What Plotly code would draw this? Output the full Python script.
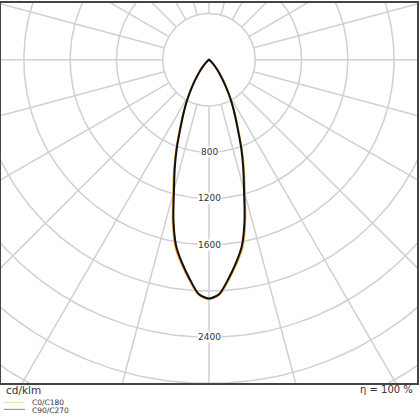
import numpy as np
import plotly.graph_objects as go

# luminous intensity distribution, cd/klm, gamma in degrees from nadir
gamma = [0, 2.5, 5, 7.5, 10, 12.5, 15, 17.5, 20, 22.5, 25, 27.5, 30, 32.5, 35, 40, 45, 50, 55, 60, 70, 80, 90]
c0_c180 = [2070, 2035, 1915, 1790, 1655, 1445, 1195, 1005, 830, 665, 540, 438, 346, 264, 198, 107, 51, 21, 8, 3, 0, 0, 0]
c90_c270 = [2065, 2028, 1905, 1775, 1635, 1420, 1170, 985, 815, 650, 530, 430, 340, 260, 195, 105, 50, 20, 8, 3, 0, 0, 0]

grid_radii = [400, 800, 1200, 1600, 2000, 2400, 2800, 3200, 3600, 4000]
grid_labels = ['800', '1200', '1600', '2400']
label_radii = [800, 1200, 1600, 2400]
spoke_angles = list(range(0, 360, 15))

unit_text = 'cd/klm'
eta_text = 'η = 100 %'
legend_names = ['C0/C180', 'C90/C270']

W, H = 420, 420
ml, mr, mt, mb = 1, 1, 1, 37
pw, ph = W - ml - mr, H - mt - mb
cx, cy = 209, 57          # centre of the diagram inside the plot area (px)
s = 46.5 / 400            # px per cd/klm


def px(x):
    return (x - ml) / pw


def py(y):
    return 1 - (y - mt) / ph


def half_to_xy(g, vals):
    g = np.array(g, dtype=float)
    v = np.array(vals, dtype=float)
    # right half (C0 / C90), then left half mirrored (C180 / C270)
    ang = np.concatenate([-g[::-1], g[1:]])
    rr = np.concatenate([v[::-1], v[1:]])
    rad = np.radians(ang)
    return rr * np.sin(rad), -rr * np.cos(rad)


fig = go.Figure()

# grid circles
gx, gy = [], []
t = np.linspace(0, 2 * np.pi, 361)
for r in grid_radii:
    gx += list(r * np.cos(t)) + [None]
    gy += list(r * np.sin(t)) + [None]
# spokes
for a in spoke_angles:
    ra = np.radians(a)
    gx += [400 * np.sin(ra), 6000 * np.sin(ra), None]
    gy += [-400 * np.cos(ra), -6000 * np.cos(ra), None]
fig.add_trace(go.Scatter(x=gx, y=gy, mode='lines', line=dict(color='#d0d0d0', width=1.5),
                         hoverinfo='skip', showlegend=False))

x0, y0 = half_to_xy(gamma, c0_c180)
fig.add_trace(go.Scatter(x=x0, y=y0, mode='lines', name=legend_names[0],
                         line=dict(color='#f0a030', width=2, shape='spline', smoothing=0.8), showlegend=False))
x9, y9 = half_to_xy(gamma, c90_c270)
fig.add_trace(go.Scatter(x=x9, y=y9, mode='lines', name=legend_names[1],
                         line=dict(color='#111111', width=2, shape='spline', smoothing=0.8), showlegend=False))

annotations = []
for lab, r in zip(grid_labels, label_radii):
    annotations.append(dict(x=0, y=-r, xref='x', yref='y', text=lab, showarrow=False,
                            font=dict(family='DejaVu Sans', size=9, color='#333333'),
                            bgcolor='white', borderpad=0))

annotations += [
    dict(x=px(4), y=py(390), xref='paper', yref='paper', text=unit_text, showarrow=False,
         xanchor='left', yanchor='middle', font=dict(family='DejaVu Sans', size=10.5, color='#333333')),
    dict(x=px(417), y=py(390), xref='paper', yref='paper', text=eta_text, showarrow=False,
         xanchor='right', yanchor='middle', font=dict(family='DejaVu Sans', size=10, color='#333333')),
    dict(x=px(30), y=py(403), xref='paper', yref='paper', text=legend_names[0], showarrow=False,
         xanchor='left', yanchor='middle', font=dict(family='DejaVu Sans', size=7.5, color='#333333')),
    dict(x=px(30), y=py(410.5), xref='paper', yref='paper', text=legend_names[1], showarrow=False,
         xanchor='left', yanchor='middle', font=dict(family='DejaVu Sans', size=7.5, color='#333333')),
]

shapes = [
    dict(type='line', xref='paper', yref='paper', x0=px(4), x1=px(25), y0=py(402.5), y1=py(402.5),
         line=dict(color='#f0d9a8', width=1)),
    dict(type='line', xref='paper', yref='paper', x0=px(4), x1=px(25), y0=py(409.5), y1=py(409.5),
         line=dict(color='#8a8a8a', width=1)),
]

fig.update_layout(
    width=W, height=H,
    margin=dict(l=ml, r=mr, t=mt, b=mb),
    paper_bgcolor='white', plot_bgcolor='white',
    hovermode=False,
    annotations=annotations,
    shapes=shapes,
    xaxis=dict(range=[-cx / s, (pw - cx) / s], showgrid=False, zeroline=False, showticklabels=False,
               ticks='', showline=True, mirror=True, linecolor='#444444', linewidth=2, fixedrange=True),
    yaxis=dict(range=[-(ph - cy) / s, cy / s], showgrid=False, zeroline=False, showticklabels=False,
               ticks='', showline=True, mirror=True, linecolor='#444444', linewidth=2, fixedrange=True),
)

fig.write_html("out.html", config={'displayModeBar': False},
               post_script="document.body.style.margin='0px';")
